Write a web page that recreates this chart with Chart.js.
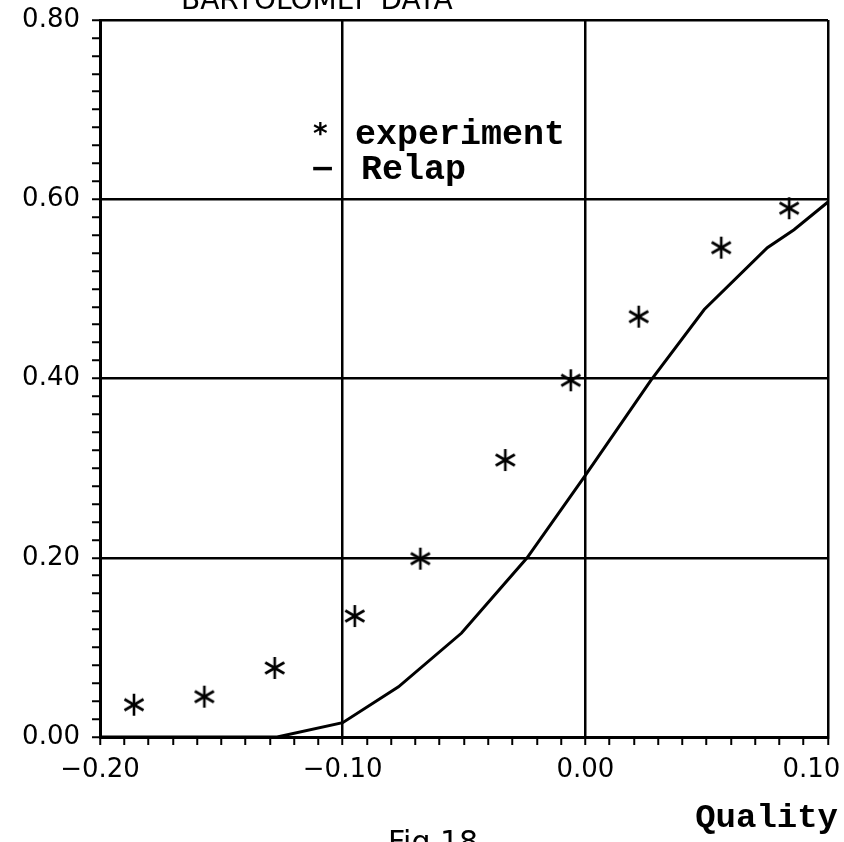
<!DOCTYPE html>
<html>
<head>
<meta charset="utf-8">
<script src="https://cdn.jsdelivr.net/npm/chart.js@4/dist/chart.umd.min.js"></script>
<style>
  html, body { margin: 0; padding: 0; background: #fff; }
  canvas { display: block; }
</style>
</head>
<body>
<canvas id="fig" width="844" height="842"></canvas>
<script>
// experiment (asterisks)
const expQuality = [-0.186, -0.157, -0.128, -0.095, -0.068, -0.033, -0.006, 0.022, 0.056, 0.084]
const expValue   = [0.036, 0.045, 0.077, 0.135, 0.199, 0.309, 0.398, 0.469, 0.546, 0.590]

// Relap (solid line)
const relapQuality = [-0.200, -0.127, -0.100, -0.077, -0.051, -0.024, 0.000, 0.027, 0.049, 0.075, 0.086, 0.100]
const relapValue   = [0.000, 0.000, 0.016, 0.056, 0.116, 0.200, 0.292, 0.398, 0.477, 0.546, 0.566, 0.597]

// tick labels
const xMajor = [-0.20, -0.10, 0.00, 0.10]
const yMajor = [0.00, 0.20, 0.40, 0.60, 0.80]

function isMajor(v, list) {
    return list.some(m => Math.abs(m - v) < 1e-6)
}
function fmt(v) {
    let s = Math.abs(v).toFixed(2)
    return v < -1e-9 ? "\u2212" + s : s
}

// six armed asterisk used as point style
function makeStar() {
    let c = document.createElement("canvas")
    c.width = 26
    c.height = 26
    let g = c.getContext("2d")
    g.strokeStyle = "#000"
    g.lineWidth = 2.6
    g.lineCap = "butt"
    let r = 11
    for (let a of [90, 30, 150]) {
        let rad = a * Math.PI / 180
        g.beginPath()
        g.moveTo(13 - r * Math.cos(rad), 13 - r * Math.sin(rad))
        g.lineTo(13 + r * Math.cos(rad), 13 + r * Math.sin(rad))
        g.stroke()
    }
    return c
}
const star = makeStar()

const annot = {
    id: "annot",
    afterDraw(chart) {
        let ctx = chart.ctx
        ctx.save()
        ctx.fillStyle = "#000"
        ctx.textBaseline = "alphabetic"
        ctx.textAlign = "left"
        // cut off title at top
        ctx.font = "28px 'DejaVu Sans'"
        ctx.fillText("BARTOLOMEI  DATA", 181, 9)
        // legend
        ctx.font = "bold 35px 'Liberation Mono'"
        ctx.fillText("experiment", 355, 144)
        ctx.fillText("Relap", 361, 179)
        ctx.font = "bold 28px 'DejaVu Sans'"
        ctx.fillText("*", 313, 143)
        ctx.font = "bold 30px 'DejaVu Sans'"
        ctx.fillText("\u2212", 310, 178)
        // axis title
        ctx.font = "bold 34px 'Liberation Mono'"
        ctx.textAlign = "right"
        ctx.fillText("Quality", 838, 827)
        // cut off caption
        ctx.font = "30px 'DejaVu Sans'"
        ctx.textAlign = "left"
        ctx.fillText("Fig.18", 388, 852)
        ctx.restore()
    }
}

let CHART = document.getElementById("fig")
let fig = new Chart(CHART, {
    type: "scatter",
    data: {
        datasets: [
            {
                label: "experiment",
                data: expQuality.map((x, i) => ({ x: x, y: expValue[i] })),
                pointStyle: star,
                pointRadius: 12,
                showLine: false
            },
            {
                label: "Relap",
                data: relapQuality.map((x, i) => ({ x: x, y: relapValue[i] })),
                showLine: true,
                borderColor: "#000",
                borderWidth: 3,
                pointRadius: 0,
                tension: 0,
                fill: false
            }
        ]
    },
    options: {
        responsive: false,
        animation: false,
        layout: { padding: { top: 20, right: 16, left: 0, bottom: 0 } },
        plugins: {
            legend: { display: false },
            tooltip: { enabled: false }
        },
        scales: {
            x: {
                type: "linear",
                min: -0.20,
                max: 0.10,
                afterFit(s) { s.height = 105; s.paddingLeft = 0; s.paddingRight = 0 },
                afterBuildTicks(s) {
                    s.ticks = []
                    for (let k = -20; k <= 10; k++) s.ticks.push({ value: k / 100 })
                },
                border: { display: true, color: "#000", width: 3 },
                grid: {
                    color: ctx => ctx.tick && isMajor(ctx.tick.value, xMajor) && ctx.tick.value > -0.19 ? "#000" : "rgba(0,0,0,0)",
                    tickColor: "#000",
                    lineWidth: 2.5,
                    tickWidth: 2,
                    tickLength: 8
                },
                ticks: {
                    autoSkip: false,
                    maxRotation: 0,
                    padding: 10,
                    color: "#000",
                    font: { family: "'DejaVu Sans'", size: 26 },
                    // last label is pulled left so it stays inside the page
                    callback: v => !isMajor(v, xMajor) ? "" : (v > 0.09 ? fmt(v) + "\u00a0\u00a0\u00a0\u00a0" : fmt(v))
                }
            },
            y: {
                type: "linear",
                min: 0,
                max: 0.80,
                afterFit(s) { s.width = 100; s.paddingTop = 0; s.paddingBottom = 0 },
                afterBuildTicks(s) {
                    s.ticks = []
                    for (let k = 0; k <= 40; k++) s.ticks.push({ value: k * 2 / 100 })
                },
                border: { display: true, color: "#000", width: 3 },
                grid: {
                    color: ctx => ctx.tick && isMajor(ctx.tick.value, yMajor) && ctx.tick.value > 0.01 ? "#000" : "rgba(0,0,0,0)",
                    tickColor: "#000",
                    lineWidth: 2.5,
                    tickWidth: 2,
                    tickLength: 8
                },
                ticks: {
                    autoSkip: false,
                    padding: 12,
                    color: "#000",
                    font: { family: "'DejaVu Sans'", size: 26 },
                    callback: v => isMajor(v, yMajor) ? fmt(v) : ""
                }
            }
        }
    },
    plugins: [annot]
})
</script>
</body>
</html>
